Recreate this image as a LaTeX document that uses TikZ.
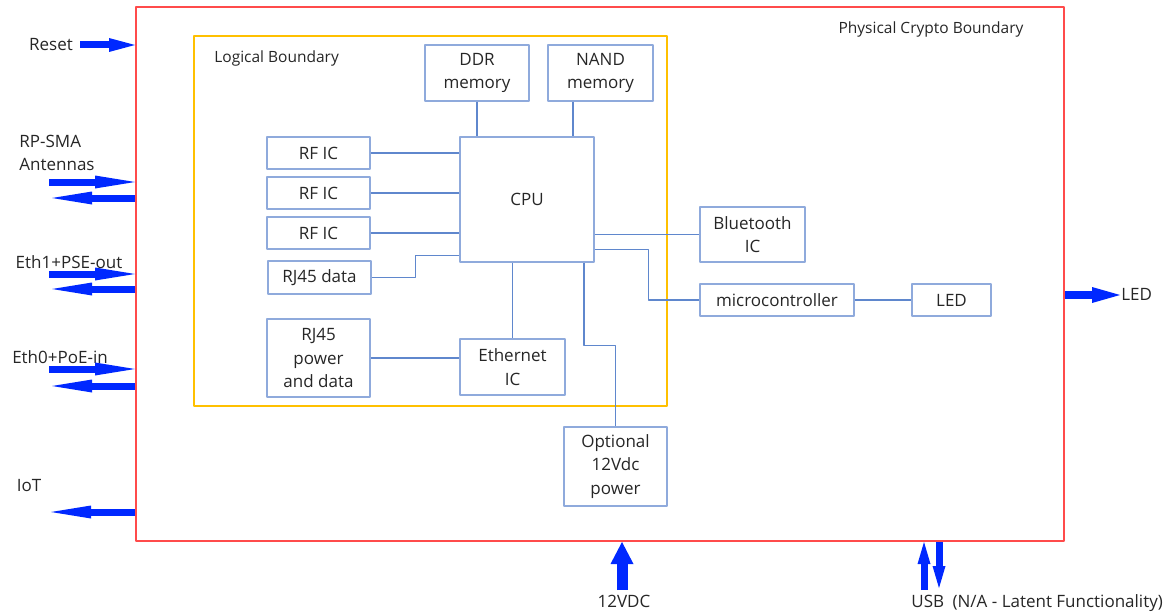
\documentclass[tikz,border=0pt]{standalone}
\usepackage{fontspec}
\setmainfont{Open Sans}
\usetikzlibrary{arrows.meta}
\definecolor{boxblue}{RGB}{143,170,220}
\definecolor{wireblue}{RGB}{95,135,205}
\definecolor{pinblue}{RGB}{0,40,255}
\definecolor{physred}{RGB}{255,75,75}
\definecolor{logicgold}{RGB}{255,192,0}
\begin{document}
\begin{tikzpicture}[x=0.5pt,y=-0.5pt,line join=round,
		font=\fontsize{8.5}{11.75}\selectfont,
		every node/.style={text=black!85},
		blk/.style={draw=boxblue,line width=0.75pt,inner sep=0pt,align=center},
		lbl/.style={inner sep=0pt},
		note/.style={inner sep=0pt,font=\fontsize{7.75}{9}\selectfont},
		wire/.style={draw=wireblue,line width=0.6pt},
		pinr/.style={draw=pinblue,line width=3.5pt,-{Triangle[length=13pt,width=7pt,line width=0pt]}},
		pair/.style={draw=pinblue,line width=3.5pt,-{Triangle[length=20pt,width=6.5pt,line width=0pt]}},
		ledarrow/.style={draw=pinblue,line width=4pt,-{Triangle[length=14pt,width=8pt,line width=0pt]}},
		vdcarrow/.style={draw=pinblue,line width=5.5pt,-{Triangle[length=11pt,width=11.5pt,line width=0pt]}},
		usbarrow/.style={draw=pinblue,line width=3.5pt,-{Triangle[length=11pt,width=6.5pt,line width=0pt]}}]
			\useasboundingbox (0,0) rectangle (1176,615);
			\node[draw=physred,line width=1pt,inner sep=0pt,minimum width=464pt,minimum height=267pt] (phys) at (600,274) {};
			\node[draw=logicgold,line width=1pt,inner sep=0pt,minimum width=236.5pt,minimum height=185pt] (logic) at (430.5,221) {};
			\node[note] (physlbl) at (931,29) {Physical Crypto Boundary};
			\node[note,anchor=west] (logiclbl) at (214,58) {Logical Boundary};
			\node[blk,minimum width=67pt,minimum height=62.5pt] (cpu) at (527,199.5) {CPU};
			\node[blk,minimum width=52pt,minimum height=28pt] (ddr) at (477,73) {DDR\\memory};
			\node[blk,minimum width=52.5pt,minimum height=28pt] (nand) at (600.5,73) {NAND\\memory};
			\node[blk,minimum width=51.5pt,minimum height=16.5pt] (rjdata) at (319.5,277.5) {RJ45 data};
			\node[blk,minimum width=51.5pt,minimum height=39pt] (rjpow) at (318.5,358) {RJ45\\power\\and data};
			\node[blk,minimum width=52.5pt,minimum height=28pt] (eth) at (512.5,367) {Ethernet\\IC};
			\node[blk,minimum width=51.5pt,minimum height=39.5pt] (opt) at (615.5,466.5) {Optional\\12Vdc\\power};
			\node[blk,minimum width=52.5pt,minimum height=27.5pt] (bt) at (752.5,234.5) {Bluetooth\\IC};
			\node[blk,minimum width=77pt,minimum height=16pt] (mcu) at (777,300) {microcontroller};
			\node[blk,minimum width=39.5pt,minimum height=16pt] (led) at (951.5,300) {LED};
			\foreach \i/\y in {1/153,2/193,3/233}
			{
				\node[blk,minimum width=51.5pt,minimum height=16pt] (rf\i) at (318.5,\y) {RF IC};
				\draw[wire] (rf\i.east) -- (rf\i.east -| cpu.west);
			}
			\draw[wire] (ddr.south) -- (ddr.south |- cpu.north);
			\draw[wire] ([xshift=-13.75pt]nand.south) -- ([xshift=-13.75pt]nand.south |- cpu.north);
			\draw[wire] (rjdata.east) -- ++(22pt,0) |- ([yshift=3.5pt]cpu.south west);
			\draw[wire] (rjpow.east) -- (rjpow.east -| eth.west);
			\draw[wire] (cpu.south -| eth.north) -- (eth.north);
			\draw[wire] ([xshift=28.5pt]cpu.south) -- ++(0,-41.5pt) -| (opt.north);
			\draw[wire] (bt.west -| cpu.east) -- (bt.west);
			\draw[wire] ([yshift=-25pt]cpu.east) -- ++(27pt,0) |- (mcu.west);
			\draw[wire] (mcu.east) -- (led.west);
			\node[lbl] (rstlbl) at (51,45) {Reset};
			\node[lbl,align=left,anchor=west] (smalbl) at (19,153) {RP-SMA\\Antennas};
			\node[lbl] (eth1lbl) at (69,262) {Eth1+PSE-out};
			\node[lbl] (eth0lbl) at (60,357) {Eth0+PoE-in};
			\node[lbl] (iotlbl) at (29,486) {IoT};
			\node[lbl,anchor=west] (ledlbl) at (1121,294) {LED};
			\node[lbl] (vdclbl) at (624,601) {12VDC};
			\node[lbl,anchor=west] (usblbl) at (911,603) {USB\enspace(N/A - Latent Functionality)};
			\coordinate (rst) at (80,45);
			\draw[pinr] (rst) -- (rst -| phys.west);
			\foreach \n/\yi/\yo in {sma/182/198,ethA/274/289,ethB/369/386}
			{
				\coordinate (\n in) at (49,\yi);
				\coordinate (\n out) at (52,\yo);
				\draw[pair] (\n in) -- (\n in -| phys.west);
				\draw[pair] (\n out -| phys.west) -- (\n out);
			}
			\coordinate (iot) at (51,512);
			\draw[pair] (iot -| phys.west) -- (iot);
			\coordinate (ledout) at (1120,295);
			\draw[ledarrow] (ledout -| phys.east) -- (ledout);
			\coordinate (vdc) at (622,590);
			\draw[vdcarrow] (vdc) -- (vdc |- phys.south);
			\coordinate (usbin) at (924,590);
			\coordinate (usbout) at (939,588);
			\draw[usbarrow] (usbin) -- (usbin |- phys.south);
			\draw[usbarrow] (usbout |- phys.south) -- (usbout);
		\end{tikzpicture}
\end{document}
